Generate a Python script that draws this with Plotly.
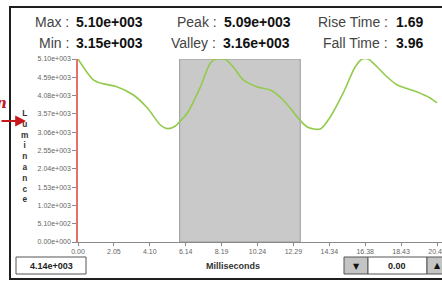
import plotly.graph_objects as go

# ---- data ----
time_ms = [0.0, 0.88, 1.28, 2.25, 3.16, 3.96, 4.70, 5.10, 5.56, 5.78, 6.24, 6.98, 7.55, 7.83,
           8.40, 8.86, 9.43, 10.23, 10.97, 11.71, 12.51, 13.08, 13.82, 14.39, 15.13, 15.81,
           16.21, 16.55, 17.07, 17.64, 18.21, 18.66, 19.35, 20.09, 20.48]
luminance = [5100, 4515, 4431, 4320, 4097, 3734, 3261, 3160, 3233, 3344, 3595, 4320, 4989, 5090,
             5090, 4877, 4515, 4320, 4236, 3958, 3484, 3205, 3150, 3484, 4153, 4877,
             5100, 5100, 4877, 4599, 4376, 4292, 4180, 4013, 3874]

x_tick_vals = [0, 2.048, 4.096, 6.144, 8.192, 10.24, 12.288, 14.336, 16.384, 18.432, 20.48]
x_tick_text = ["0.00", "2.05", "4.10", "6.14", "8.19", "10.24", "12.29", "14.34", "16.38", "18.43", "20.48"]
y_tick_vals = [0, 510, 1020, 1530, 2040, 2550, 3060, 3570, 4080, 4590, 5100]
y_tick_text = ["0.00e+000", "5.10e+002", "1.02e+003", "1.53e+003", "2.04e+003", "2.55e+003",
               "3.06e+003", "3.57e+003", "4.08e+003", "4.59e+003", "5.10e+003"]

selection_start = 5.80
selection_end = 12.68

stat_labels = ["Max :", "Min :", "Peak :", "Valley :", "Rise Time :", "Fall Time :"]
stat_values = ["5.10e+003", "3.15e+003", "5.09e+003", "3.16e+003", "1.69", "3.96"]

cursor_value = "4.14e+003"
offset_value = "0.00"

# ---- layout geometry (pixels) ----
W, H = 442, 281
L, T, B, R = 78, 59, 39, 0
PW = W - L - R
PH = H - T - B


def px(x):
    return (x - L) / PW


def py(y):
    return (H - B - y) / PH


x_max = PW / (359 / 20.48)

fig = go.Figure()
fig.add_trace(go.Scatter(x=time_ms, y=luminance, mode="lines",
                         line=dict(color="#92cb4c", width=1.6, shape="spline", smoothing=0.8),
                         hoverinfo="skip", showlegend=False, cliponaxis=False))

shapes = []
# selection band
shapes.append(dict(type="rect", xref="x", yref="y", x0=selection_start, x1=selection_end,
                   y0=0, y1=5100, fillcolor="#c9c9c9", line=dict(color="#9a9a9a", width=1),
                   layer="below"))
# outer frame
shapes.append(dict(type="rect", xref="paper", yref="paper", x0=px(10), x1=px(446), y0=py(279), y1=py(7),
                   line=dict(color="#1e1e1e", width=2), fillcolor="rgba(0,0,0,0)"))
# left value box
shapes.append(dict(type="rect", xref="paper", yref="paper", x0=px(16), x1=px(86), y0=py(274), y1=py(257),
                   line=dict(color="#555", width=1), fillcolor="white"))
# down button
shapes.append(dict(type="rect", xref="paper", yref="paper", x0=px(344), x1=px(368), y0=py(274), y1=py(257),
                   line=dict(color="#555", width=1), fillcolor="#c4c4c4"))
# value box
shapes.append(dict(type="rect", xref="paper", yref="paper", x0=px(368), x1=px(427), y0=py(274), y1=py(257),
                   line=dict(color="#555", width=1), fillcolor="white"))
# up button
shapes.append(dict(type="rect", xref="paper", yref="paper", x0=px(427), x1=px(450), y0=py(274), y1=py(257),
                   line=dict(color="#555", width=1), fillcolor="#c4c4c4"))

ann = []
label_font = dict(family="Liberation Sans, Arial, sans-serif", size=14, color="#444")
value_font = dict(family="Liberation Sans, Arial, sans-serif", size=14, color="#111")
label_right = [71, 71, 219, 218, 390, 390]
value_left = [74, 74, 222, 221, 394, 394]
rows = [22, 43, 22, 43, 22, 43]
for lab, val, lr, vl, ry in zip(stat_labels, stat_values, label_right, value_left, rows):
    ann.append(dict(xref="paper", yref="paper", x=px(lr), y=py(ry), text=lab, showarrow=False,
                    xanchor="right", yanchor="middle", font=label_font))
    ann.append(dict(xref="paper", yref="paper", x=px(vl), y=py(ry), text="<b>" + val + "</b>",
                    showarrow=False, xanchor="left", yanchor="middle", font=value_font))

# vertical stacked axis title
ann.append(dict(xref="paper", yref="paper", x=px(25), y=py(156),
                text="<b>" + "<br>".join(list("Luminance")) + "</b>", showarrow=False,
                xanchor="center", yanchor="middle",
                font=dict(family="Liberation Sans, Arial, sans-serif", size=8.3, color="#333"),
                align="center"))
ann.append(dict(xref="paper", yref="paper", x=px(233), y=py(266), text="<b>Milliseconds</b>",
                showarrow=False, xanchor="center", yanchor="middle",
                font=dict(family="Liberation Sans, Arial, sans-serif", size=9, color="#333")))
ann.append(dict(xref="paper", yref="paper", x=px(51), y=py(265.5), text="<b>" + cursor_value + "</b>",
                showarrow=False, xanchor="center", yanchor="middle",
                font=dict(family="Liberation Sans, Arial, sans-serif", size=9, color="#222")))
ann.append(dict(xref="paper", yref="paper", x=px(397), y=py(265.5), text="<b>" + offset_value + "</b>",
                showarrow=False, xanchor="center", yanchor="middle",
                font=dict(family="Liberation Sans, Arial, sans-serif", size=9, color="#222")))
ann.append(dict(xref="paper", yref="paper", x=px(356), y=py(266), text="▼",
                showarrow=False, xanchor="center", yanchor="middle",
                font=dict(family="DejaVu Sans", size=8, color="#111")))
ann.append(dict(xref="paper", yref="paper", x=px(437), y=py(265), text="▲",
                showarrow=False, xanchor="center", yanchor="middle",
                font=dict(family="DejaVu Sans", size=8, color="#111")))
# red callout bits outside frame
ann.append(dict(xref="paper", yref="paper", x=px(9), y=py(103), text="<b><i>n</i></b>",
                showarrow=False, xanchor="right", yanchor="middle",
                font=dict(family="DejaVu Serif, serif", size=15, color="#c8161d")))
ann.append(dict(xref="paper", yref="paper", x=px(26), y=py(121), text="", showarrow=True,
                ax=-30, ay=0, arrowhead=2, arrowsize=1.2, arrowwidth=1.8, arrowcolor="#c8161d"))

fig.update_layout(
    width=W, height=H,
    margin=dict(l=L, r=R, t=T, b=B, pad=0),
    paper_bgcolor="white", plot_bgcolor="white",
    shapes=shapes, annotations=ann, showlegend=False,
    xaxis=dict(range=[0, x_max], tickvals=x_tick_vals, ticktext=x_tick_text,
               showgrid=False, zeroline=False, showline=True, linecolor="#8a8a8a", linewidth=1,
               ticks="outside", ticklen=3, tickcolor="#8a8a8a", ticklabeloverflow="allow",
               tickfont=dict(family="Liberation Sans, Arial, sans-serif", size=7, color="#666"),
               automargin=False, fixedrange=True),
    yaxis=dict(range=[0, 5100], tickvals=y_tick_vals, ticktext=y_tick_text,
               showgrid=False, zeroline=False, showline=True, linecolor="#e8706a", linewidth=1.5,
               ticks="outside", ticklen=4, tickcolor="#8a8a8a",
               tickfont=dict(family="Liberation Sans, Arial, sans-serif", size=7, color="#666"),
               automargin=False, fixedrange=True),
)

fig.write_html("out.html", config={"displayModeBar": False},
               post_script="document.body.style.margin='0px';document.body.style.overflow='hidden';")
